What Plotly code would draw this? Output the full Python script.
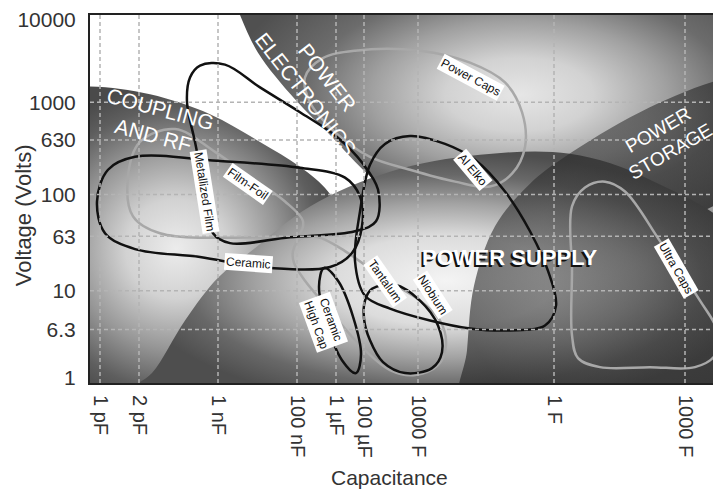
import plotly.graph_objects as go

# schematic axis positions (the chart is not drawn to a true log scale)
cap_ticks = [10, 49, 128, 207, 246, 274, 328, 464, 595]
cap_labels = ["1 pF", "2 pF", "1 nF", "100 nF", "1 µF", "100 µF", "1000 F", "1 F", "1000 F"]
volt_ticks = [5, 54, 93, 148, 190, 245, 283, 366]
volt_labels = ["1", "6.3", "10", "63", "100", "630", "1000", "10000"]

# application areas (shaded backgrounds)
elec_x = [135, 150, 168, 205, 242, 273, 310, 370, 470, 631, 710, 710, 410]
elec_y = [413, 371, 333, 286, 248, 215, 183, 153, 143, 183, 283, 413, 433]
rf_x = [-70, 0, 60, 120, 170, 210, 238, 255, 240, 200, 160, 130, -50, -70]
rf_y = [293, 299, 291, 271, 243, 218, 193, 158, 113, 63, 13, -17, -17, 83]
supply_x = [40, 62, 95, 128, 160, 220, 300, 390, 480, 560, 650, 655, 350]
supply_y = [-8, 10, 63, 106, 132, 178, 213, 230, 231, 205, 143, -8, -8]
storage_x = [372, 377, 384, 405, 440, 475, 550, 631, 710, 740]
storage_y = [-37, 33, 98, 158, 201, 228, 273, 306, 318, -37]

# capacitor technology outlines
film_foil_x = [50, 85, 125, 160, 195, 213, 208, 170, 70, 43, 38]
film_foil_y = [243, 256, 233, 208, 183, 163, 149, 147, 151, 168, 208]
power_caps_x = [215, 232, 265, 330, 380, 415, 432, 435, 422, 400, 365, 320, 280, 245, 220]
power_caps_y = [308, 327, 335, 335, 323, 303, 273, 238, 211, 198, 203, 215, 228, 253, 283]
niobium_x = [203, 210, 228, 255, 290, 330, 350, 356, 348, 325, 300, 270, 240, 215, 204]
niobium_y = [133, 145, 147, 133, 108, 83, 63, 38, 18, 8, 13, 38, 73, 103, 121]
ultra_x = [482, 495, 515, 535, 570, 610, 627, 625, 605, 560, 510, 488, 482, 482]
ultra_y = [178, 197, 203, 193, 143, 83, 53, 28, 16, 16, 16, 25, 48, 113]
ceramic_x = [7, 18, 45, 127, 210, 255, 270, 272, 262, 240, 170, 110, 45, 15]
ceramic_y = [183, 215, 228, 224, 217, 207, 188, 158, 131, 117, 117, 127, 135, 151]
met_film_x = [110, 135, 170, 210, 247, 273, 288, 286, 265, 200, 140, 123, 115, 105, 97, 100]
met_film_y = [320, 321, 298, 273, 248, 221, 195, 163, 153, 147, 141, 151, 193, 243, 283, 308]
al_elko_x = [280, 295, 320, 355, 385, 415, 440, 458, 466, 455, 420, 380, 340, 300, 275, 265, 270]
al_elko_y = [220, 241, 249, 241, 225, 193, 153, 113, 78, 58, 53, 55, 63, 75, 88, 123, 173]
tantalum_x = [275, 282, 305, 330, 348, 352, 342, 315, 293, 280, 274]
tantalum_y = [83, 95, 99, 83, 58, 31, 15, 10, 21, 43, 65]
hicap_x = [234, 248, 263, 271, 266, 252, 237, 229]
hicap_y = [116, 103, 67, 29, 10, 23, 59, 97]

FONT = "Liberation Sans, Arial, sans-serif"


def closed(xs, ys):
    return xs + xs[:1], ys + ys[:1]


fig = go.Figure()


def add_area(xs, ys, scale):
    cx, cy = closed(xs, ys)
    fig.add_trace(go.Scatter(
        x=cx, y=cy, mode="lines", fill="toself",
        line=dict(width=0, shape="spline", smoothing=1),
        fillgradient=dict(type="radial", colorscale=scale),
        hoverinfo="skip", showlegend=False,
    ))


add_area(elec_x, elec_y, [[0, "#e6e6e6"], [0.25, "#d2d2d2"], [0.5, "#a0a0a0"],
                          [0.72, "#6c6c6c"], [1, "#505050"]])
add_area(rf_x, rf_y, [[0, "#ececec"], [0.3, "#d2d2d2"], [0.6, "#979797"],
                      [0.85, "#5e5e5e"], [1, "#4a4a4a"]])
add_area(supply_x, supply_y, [[0, "#f4f4f4"], [0.35, "#dcdcdc"], [0.6, "#a2a2a2"],
                              [0.82, "#686868"], [1, "#4e4e4e"]])
add_area(storage_x, storage_y, [[0, "rgba(40,40,40,0.42)"], [0.6, "rgba(40,40,40,0.5)"],
                                [1, "rgba(30,30,30,0.6)"]])


def add_outline(xs, ys, color):
    cx, cy = closed(xs, ys)
    fig.add_trace(go.Scatter(
        x=cx, y=cy, mode="lines",
        line=dict(color=color, width=2.5, shape="spline", smoothing=1),
        hoverinfo="skip", showlegend=False,
    ))


GREY = "#a8a8a8"
BLACK = "#111111"
for xs, ys in [(film_foil_x, film_foil_y), (power_caps_x, power_caps_y),
               (niobium_x, niobium_y), (ultra_x, ultra_y)]:
    add_outline(xs, ys, GREY)
for xs, ys in [(ceramic_x, ceramic_y), (met_film_x, met_film_y), (al_elko_x, al_elko_y),
               (tantalum_x, tantalum_y), (hicap_x, hicap_y)]:
    add_outline(xs, ys, BLACK)

# dashed grid drawn above the areas, like the original
for xv in cap_ticks:
    fig.add_shape(type="line", xref="x", yref="paper", x0=xv, x1=xv, y0=0, y1=1,
                  line=dict(color="#b4b4b4", width=1.5, dash="4px,3px"), layer="above")
for yv in volt_ticks[1:-1]:
    fig.add_shape(type="line", xref="paper", yref="y", x0=0, x1=1, y0=yv, y1=yv,
                  line=dict(color="#b4b4b4", width=1.5, dash="4px,3px"), layer="above")

# technology labels
tags = [
    ("Metallized Film", 115, 193, 81),
    ("Film-Foil", 158, 201, 35),
    ("Ceramic", 158, 121, 4),
    ("Power Caps", 380, 308, 28),
    ("Al Elko", 383, 215, 50),
    ("Tantalum", 295, 103, 55),
    ("Niobium", 343, 89, 57),
    ("Ceramic<br>High Cap", 233, 61, 70),
    ("Ultra Caps", 586, 116, 60),
]
for text, x, y, ang in tags:
    fig.add_annotation(x=x, y=y, text=text, showarrow=False, textangle=ang,
                       font=dict(family=FONT, size=12, color="#111"),
                       bgcolor="white", borderpad=1)

# area labels
areas = [
    ("COUPLING<br>AND RF", 67, 263, 15, 21),
    ("POWER<br>ELECTRONICS", 226, 300, 52, 21),
    ("POWER<br>STORAGE", 574, 244, -30, 19),
]
for text, x, y, ang, size in areas:
    fig.add_annotation(x=x, y=y, text=text, showarrow=False, textangle=ang,
                       font=dict(family=FONT, size=size, color="white"))
fig.add_annotation(x=420, y=127, text="<b>POWER SUPPLY</b>", showarrow=False,
                   font=dict(family=FONT, size=22, color="white",
                             shadow="-2px 2px 0px #111"))

# axis titles
fig.add_annotation(xref="paper", yref="paper", x=0.475, y=-0.256, text="Capacitance",
                   xanchor="center", yanchor="middle", showarrow=False,
                   font=dict(family=FONT, size=21, color="#333"))
fig.add_annotation(xref="paper", yref="paper", x=-0.106, y=0.456, text="Voltage (Volts)",
                   xanchor="center", yanchor="middle", textangle=-90, showarrow=False,
                   font=dict(family=FONT, size=22, color="#333"))

fig.update_xaxes(range=[0, 631], tickvals=cap_ticks, ticktext=cap_labels, tickangle=90,
                 showgrid=False, zeroline=False, showline=True, linecolor="#222",
                 linewidth=2, mirror=True, ticks="outside", ticklen=6,
                 tickcolor="rgba(0,0,0,0)", tickfont=dict(family=FONT, size=20, color="#333"))
fig.update_yaxes(range=[0, 371], tickvals=volt_ticks, ticktext=volt_labels,
                 showgrid=False, zeroline=False, showline=True, linecolor="#222",
                 linewidth=2, ticks="outside", ticklen=8, ticklabeloverflow="allow",
                 tickcolor="rgba(0,0,0,0)", tickfont=dict(family=FONT, size=21, color="#333"))
# the page body adds an 8px offset, so the figure is made 8px smaller
fig.update_layout(
    width=713, height=484,
    margin=dict(l=82, r=0, t=4, b=109),
    plot_bgcolor="white", paper_bgcolor="white",
    showlegend=False,
)

fig.write_html("out.html", config={"displayModeBar": False})
